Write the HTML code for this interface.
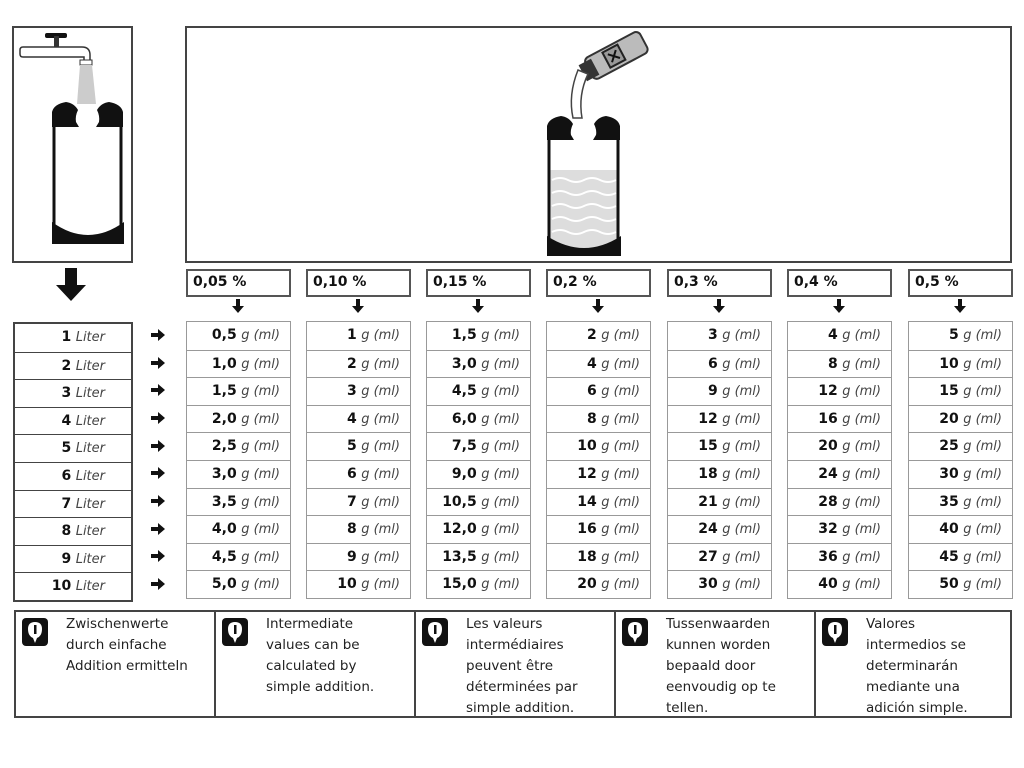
<!DOCTYPE html>
<html><head><meta charset="utf-8"><style>
*{margin:0;padding:0;box-sizing:border-box}
body{width:1024px;height:768px;background:#fff;position:relative;overflow:hidden;font-family:"DejaVu Sans","Liberation Sans",sans-serif;color:#111}
.a{position:absolute}
.box{position:absolute;border:2px solid #444}
.hd{position:absolute;border:2px solid #555;height:28px;width:105px;font-weight:bold;font-size:14px;padding:3px 0 0 5px}
.col{position:absolute;width:105px;border:1px solid #999}
.col div{height:27.6px;border-top:1px solid #999;text-align:right;padding-right:10px;font-size:14px;line-height:27px}
.col div:first-child{border-top:none}
.col i,.lc i{font-style:italic;color:#444;font-size:13px}
.lc{position:absolute;left:13px;top:322px;width:120px;border:2px solid #444}
.lc div{height:27.6px;border-top:1.5px solid #444;text-align:right;padding-right:26px;font-size:14px;line-height:26px}
.lc div:first-child{border-top:none}
.notes{position:absolute;left:14px;top:610px;width:998px;height:108px;border:2px solid #444}
.n{position:absolute;top:0;height:104px;border-left:2px solid #444}
.n p{position:absolute;left:50px;top:2px;font-size:13.5px;line-height:21px;color:#222}
.n svg{position:absolute;left:6px;top:6px}
</style></head><body>
<div class="box" style="left:12px;top:26px;width:121px;height:237px"></div>
<div class="box" style="left:185px;top:26px;width:827px;height:237px"></div>
<svg class="a" style="left:0;top:0" width="1024" height="320">
<defs>
<path id="da" d="M-2 0 H2 V7 H6 L0 14 L-6 7 H-2 Z" fill="#111"/>
<path id="ra" d="M0 -2 H7 V-6 L14 0 L7 6 V2 H0 Z" fill="#111"/>
</defs>
<!-- tap -->
<rect x="45" y="33" width="22" height="5" rx="2" fill="#111"/>
<rect x="54" y="36" width="5" height="12" fill="#333"/>
<path d="M20 50 Q20 47 23 47 H82 Q90 47 90 55 V62 H84 V57 H23 Q20 57 20 54 Z" fill="#fff" stroke="#333" stroke-width="1.5"/>
<rect x="80" y="60" width="12" height="5" fill="#fff" stroke="#333"/>
<polygon points="80,65 92,65 96,104 77,104" fill="#ccc"/>
<!-- left bottle -->
<path d="M52 127 V112 Q54 104 66 102 Q74 103 78 110 Q75 116 76 122 L79 127 Z" fill="#111"/>
<path d="M123 127 V112 Q121 104 109 102 Q101 103 97 110 Q100 116 99 122 L96 127 Z" fill="#111"/>
<path d="M54 127 V238 M121 127 V238" stroke="#111" stroke-width="3"/>
<path d="M52 222 V244 H124 V222 Q88 248 52 222Z" fill="#111"/>
<!-- can -->
<g transform="rotate(-28 615 55)"><rect x="585" y="44" width="62" height="24" rx="5" fill="#bbb" stroke="#333" stroke-width="2"/><rect x="578" y="47" width="14" height="18" fill="#333"/><rect x="605" y="47" width="17" height="17" fill="#999" stroke="#222" stroke-width="2"/><path d="M609 51 l9 9 M618 51 l-9 9" stroke="#111" stroke-width="2"/></g>
<path d="M578 70 Q568 95 573 118 L582 118 Q578 95 588 74 Z" fill="#fff" stroke="#444" stroke-width="1.5"/>
<!-- right bottle -->
<rect x="550" y="170" width="68" height="80" fill="#ddd"/>
<path d="M552 180 q8 -4 16 0 t16 0 t16 0 t16 0 M552 193 q8 -4 16 0 t16 0 t16 0 t16 0 M552 206 q8 -4 16 0 t16 0 t16 0 t16 0 M552 219 q8 -4 16 0 t16 0 t16 0 t16 0 M552 232 q8 -4 16 0 t16 0 t16 0 t16 0" stroke="#fff" stroke-width="2" fill="none"/>
<path d="M547 140 V126 Q549 118 561 116 Q569 117 573 124 Q570 130 571 135 L574 140 Z" fill="#111"/>
<path d="M620 140 V126 Q618 118 606 116 Q598 117 594 124 Q597 130 596 135 L593 140 Z" fill="#111"/>
<path d="M549 140 V250 M618 140 V250" stroke="#111" stroke-width="3"/>
<path d="M547 236 V256 H621 V236 Q584 260 547 236Z" fill="#111"/>
<!-- big arrow -->
<path d="M65 268 H77 V285 H86 L71 301 L56 285 H65 Z" fill="#111"/>
<use href="#da" x="238" y="299"/><use href="#da" x="358" y="299"/><use href="#da" x="478" y="299"/><use href="#da" x="598" y="299"/><use href="#da" x="719" y="299"/><use href="#da" x="839" y="299"/><use href="#da" x="960" y="299"/>
</svg>
<svg class="a" style="left:150px;top:322px" width="20" height="280">
<use href="#ra" x="1" y="13"/><use href="#ra" x="1" y="41"/><use href="#ra" x="1" y="68"/><use href="#ra" x="1" y="96"/><use href="#ra" x="1" y="124"/><use href="#ra" x="1" y="151"/><use href="#ra" x="1" y="179"/><use href="#ra" x="1" y="207"/><use href="#ra" x="1" y="234"/><use href="#ra" x="1" y="262"/>
<defs><path id="ra" d="M0 -2 H7 V-6 L14 0 L7 6 V2 H0 Z" fill="#111"/></defs>
</svg>

<div class="hd" style="left:186px;top:269px">0,05 %</div>
<div class="hd" style="left:306px;top:269px">0,10 %</div>
<div class="hd" style="left:426px;top:269px">0,15 %</div>
<div class="hd" style="left:546px;top:269px">0,2 %</div>
<div class="hd" style="left:667px;top:269px">0,3 %</div>
<div class="hd" style="left:787px;top:269px">0,4 %</div>
<div class="hd" style="left:908px;top:269px">0,5 %</div>

<div class="lc"><div><b>1</b> <i>Liter</i></div><div><b>2</b> <i>Liter</i></div><div><b>3</b> <i>Liter</i></div><div><b>4</b> <i>Liter</i></div><div><b>5</b> <i>Liter</i></div><div><b>6</b> <i>Liter</i></div><div><b>7</b> <i>Liter</i></div><div><b>8</b> <i>Liter</i></div><div><b>9</b> <i>Liter</i></div><div><b>10</b> <i>Liter</i></div></div>

<div class="col" style="left:186px;top:321px"><div><b>0,5</b> <i>g (ml)</i></div><div><b>1,0</b> <i>g (ml)</i></div><div><b>1,5</b> <i>g (ml)</i></div><div><b>2,0</b> <i>g (ml)</i></div><div><b>2,5</b> <i>g (ml)</i></div><div><b>3,0</b> <i>g (ml)</i></div><div><b>3,5</b> <i>g (ml)</i></div><div><b>4,0</b> <i>g (ml)</i></div><div><b>4,5</b> <i>g (ml)</i></div><div><b>5,0</b> <i>g (ml)</i></div></div>
<div class="col" style="left:306px;top:321px"><div><b>1</b> <i>g (ml)</i></div><div><b>2</b> <i>g (ml)</i></div><div><b>3</b> <i>g (ml)</i></div><div><b>4</b> <i>g (ml)</i></div><div><b>5</b> <i>g (ml)</i></div><div><b>6</b> <i>g (ml)</i></div><div><b>7</b> <i>g (ml)</i></div><div><b>8</b> <i>g (ml)</i></div><div><b>9</b> <i>g (ml)</i></div><div><b>10</b> <i>g (ml)</i></div></div>
<div class="col" style="left:426px;top:321px"><div><b>1,5</b> <i>g (ml)</i></div><div><b>3,0</b> <i>g (ml)</i></div><div><b>4,5</b> <i>g (ml)</i></div><div><b>6,0</b> <i>g (ml)</i></div><div><b>7,5</b> <i>g (ml)</i></div><div><b>9,0</b> <i>g (ml)</i></div><div><b>10,5</b> <i>g (ml)</i></div><div><b>12,0</b> <i>g (ml)</i></div><div><b>13,5</b> <i>g (ml)</i></div><div><b>15,0</b> <i>g (ml)</i></div></div>
<div class="col" style="left:546px;top:321px"><div><b>2</b> <i>g (ml)</i></div><div><b>4</b> <i>g (ml)</i></div><div><b>6</b> <i>g (ml)</i></div><div><b>8</b> <i>g (ml)</i></div><div><b>10</b> <i>g (ml)</i></div><div><b>12</b> <i>g (ml)</i></div><div><b>14</b> <i>g (ml)</i></div><div><b>16</b> <i>g (ml)</i></div><div><b>18</b> <i>g (ml)</i></div><div><b>20</b> <i>g (ml)</i></div></div>
<div class="col" style="left:667px;top:321px"><div><b>3</b> <i>g (ml)</i></div><div><b>6</b> <i>g (ml)</i></div><div><b>9</b> <i>g (ml)</i></div><div><b>12</b> <i>g (ml)</i></div><div><b>15</b> <i>g (ml)</i></div><div><b>18</b> <i>g (ml)</i></div><div><b>21</b> <i>g (ml)</i></div><div><b>24</b> <i>g (ml)</i></div><div><b>27</b> <i>g (ml)</i></div><div><b>30</b> <i>g (ml)</i></div></div>
<div class="col" style="left:787px;top:321px"><div><b>4</b> <i>g (ml)</i></div><div><b>8</b> <i>g (ml)</i></div><div><b>12</b> <i>g (ml)</i></div><div><b>16</b> <i>g (ml)</i></div><div><b>20</b> <i>g (ml)</i></div><div><b>24</b> <i>g (ml)</i></div><div><b>28</b> <i>g (ml)</i></div><div><b>32</b> <i>g (ml)</i></div><div><b>36</b> <i>g (ml)</i></div><div><b>40</b> <i>g (ml)</i></div></div>
<div class="col" style="left:908px;top:321px"><div><b>5</b> <i>g (ml)</i></div><div><b>10</b> <i>g (ml)</i></div><div><b>15</b> <i>g (ml)</i></div><div><b>20</b> <i>g (ml)</i></div><div><b>25</b> <i>g (ml)</i></div><div><b>30</b> <i>g (ml)</i></div><div><b>35</b> <i>g (ml)</i></div><div><b>40</b> <i>g (ml)</i></div><div><b>45</b> <i>g (ml)</i></div><div><b>50</b> <i>g (ml)</i></div></div>

<div class="notes">
<div class="n" style="left:0;border-left:none;width:198px"><svg width="26" height="28"><rect width="26" height="28" rx="4" fill="#111"/><path d="M6 11 Q6 4 13 4 Q20 4 20 11 Q20 18 15 20 L13 25 L11 20 Q6 18 6 11Z" fill="#fff"/><rect x="12" y="7" width="2.5" height="9" fill="#111"/></svg><p>Zwischenwerte<br>durch einfache<br>Addition ermitteln</p></div>
<div class="n" style="left:198px;width:200px"><svg width="26" height="28"><rect width="26" height="28" rx="4" fill="#111"/><path d="M6 11 Q6 4 13 4 Q20 4 20 11 Q20 18 15 20 L13 25 L11 20 Q6 18 6 11Z" fill="#fff"/><rect x="12" y="7" width="2.5" height="9" fill="#111"/></svg><p>Intermediate<br>values can be<br>calculated by<br>simple addition.</p></div>
<div class="n" style="left:398px;width:200px"><svg width="26" height="28"><rect width="26" height="28" rx="4" fill="#111"/><path d="M6 11 Q6 4 13 4 Q20 4 20 11 Q20 18 15 20 L13 25 L11 20 Q6 18 6 11Z" fill="#fff"/><rect x="12" y="7" width="2.5" height="9" fill="#111"/></svg><p>Les valeurs<br>intermédiaires<br>peuvent être<br>déterminées par<br>simple addition.</p></div>
<div class="n" style="left:598px;width:200px"><svg width="26" height="28"><rect width="26" height="28" rx="4" fill="#111"/><path d="M6 11 Q6 4 13 4 Q20 4 20 11 Q20 18 15 20 L13 25 L11 20 Q6 18 6 11Z" fill="#fff"/><rect x="12" y="7" width="2.5" height="9" fill="#111"/></svg><p>Tussenwaarden<br>kunnen worden<br>bepaald door<br>eenvoudig op te<br>tellen.</p></div>
<div class="n" style="left:798px;width:198px"><svg width="26" height="28"><rect width="26" height="28" rx="4" fill="#111"/><path d="M6 11 Q6 4 13 4 Q20 4 20 11 Q20 18 15 20 L13 25 L11 20 Q6 18 6 11Z" fill="#fff"/><rect x="12" y="7" width="2.5" height="9" fill="#111"/></svg><p>Valores<br>intermedios se<br>determinarán<br>mediante una<br>adición simple.</p></div>
</div>
</body></html>
